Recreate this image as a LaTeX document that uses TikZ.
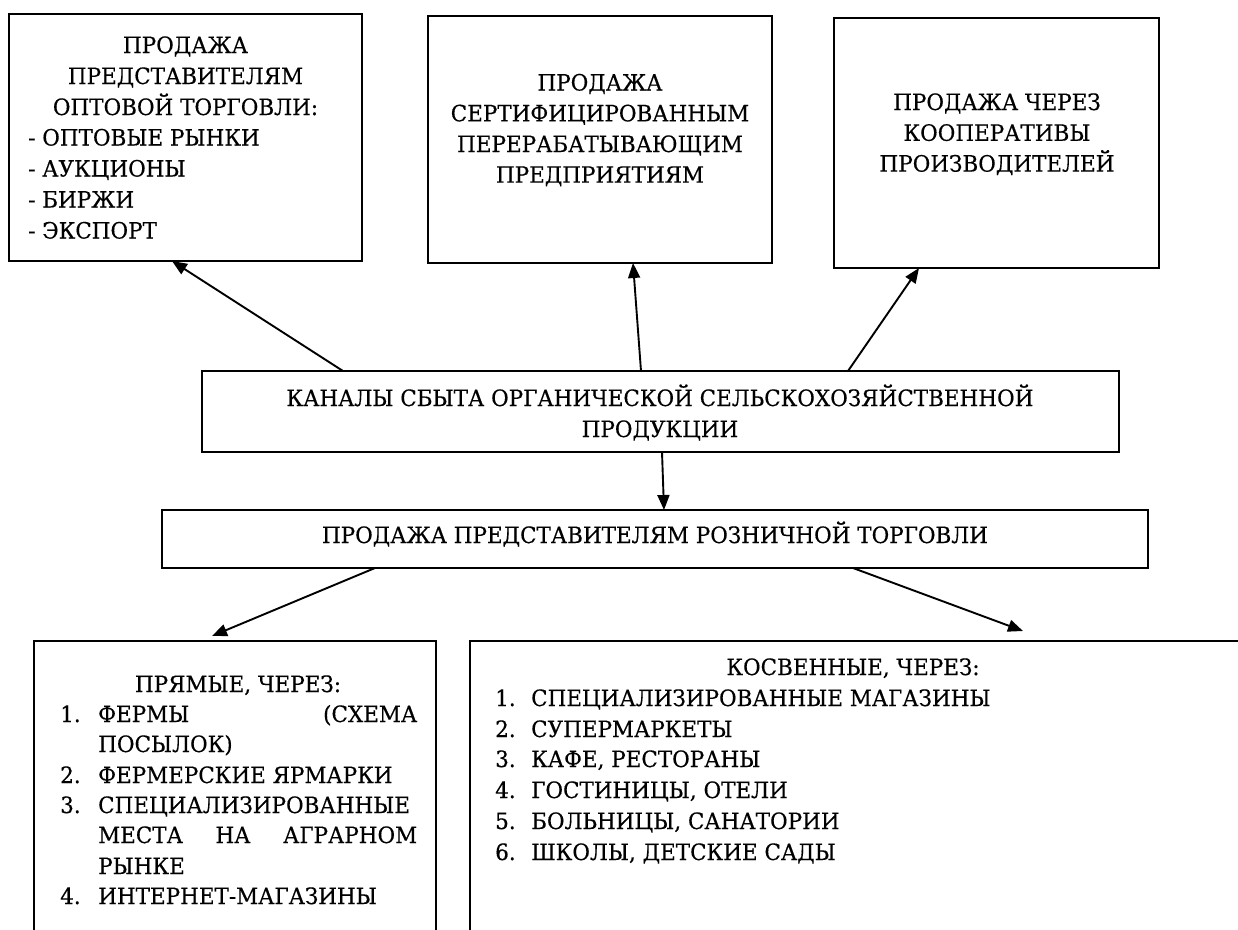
\documentclass[tikz,border=0pt]{standalone}
\usepackage{fontspec}
\newfontfamily\tnr[FakeStretch=0.955,FakeBold=0.4]{DejaVu Serif}
\usetikzlibrary{arrows.meta}
\begin{document}
\begin{tikzpicture}[x=1pt,y=-1pt,
  box/.style={draw, line width=1.9pt, inner sep=0pt, outer sep=0pt, anchor=north west},
  arr/.style={line width=1.9pt, -{Triangle[length=15pt,width=12pt]}},
  tc/.style={inner sep=0pt, anchor=base, font=\tnr\fontsize{22.5}{30}\selectfont},
  tl/.style={inner sep=0pt, anchor=base west, font=\tnr\fontsize{22.5}{30}\selectfont},
]
\clip (0,0) rectangle (1238,929);
\fill[white] (0,0) rectangle (1238,929);
% boxes
\node[box, minimum width=353pt, minimum height=247pt] (b1) at (9,14) {};
\node[box, minimum width=344pt, minimum height=247pt] (b2) at (428,16) {};
\node[box, minimum width=325pt, minimum height=250pt] (b3) at (834,18) {};
\node[box, minimum width=917pt, minimum height=81pt] (main) at (202,371) {};
\node[box, minimum width=986pt, minimum height=58pt] (retail) at (162,510) {};
\node[box, minimum width=402pt, minimum height=330pt] (direct) at (34,641) {};
\node[box, minimum width=820pt, minimum height=330pt] (indirect) at (470,641) {};
% box 1 text
\node[tc] (b1l1) at (185.5,53) {ПРОДАЖА};
\node[tc] (b1l2) at (185.5,84) {ПРЕДСТАВИТЕЛЯМ};
\node[tc] (b1l3) at (185.5,115) {ОПТОВОЙ ТОРГОВЛИ:};
\node[tl] (b1l4) at (28,145.5) {- ОПТОВЫЕ РЫНКИ};
\node[tl] (b1l5) at (28,176.5) {- АУКЦИОНЫ};
\node[tl] (b1l6) at (28,207.5) {- БИРЖИ};
\node[tl] (b1l7) at (28,238.5) {- ЭКСПОРТ};
% box 2 text
\node[tc] (b2l1) at (600,90.5) {ПРОДАЖА};
\node[tc] (b2l2) at (600,121.3) {СЕРТИФИЦИРОВАННЫМ};
\node[tc] (b2l3) at (600,152) {ПЕРЕРАБАТЫВАЮЩИМ};
\node[tc] (b2l4) at (600,182.7) {ПРЕДПРИЯТИЯМ};
% box 3 text
\node[tc] (b3l1) at (997,110) {ПРОДАЖА ЧЕРЕЗ};
\node[tc] (b3l2) at (997,140.8) {КООПЕРАТИВЫ};
\node[tc] (b3l3) at (997,171.6) {ПРОИЗВОДИТЕЛЕЙ};
% main
\node[tc] (m1) at (660,406) {КАНАЛЫ СБЫТА ОРГАНИЧЕСКОЙ СЕЛЬСКОХОЗЯЙСТВЕННОЙ};
\node[tc] (m2) at (660,437) {ПРОДУКЦИИ};
% retail
\node[tc] (r1) at (655,543) {ПРОДАЖА ПРЕДСТАВИТЕЛЯМ РОЗНИЧНОЙ ТОРГОВЛИ};
% direct
\node[tc] (d0) at (238,692) {ПРЯМЫЕ, ЧЕРЕЗ:};
\node[tl] (d1n) at (60,722) {1.};
\node[tl] (d1) at (98,722) {\makebox[319pt][s]{ФЕРМЫ (СХЕМА}};
\node[tl] (d1b) at (98,752) {ПОСЫЛОК)};
\node[tl] (d2n) at (60,783) {2.};
\node[tl] (d2) at (98,783) {ФЕРМЕРСКИЕ ЯРМАРКИ};
\node[tl] (d3n) at (60,813) {3.};
\node[tl] (d3) at (98,813) {СПЕЦИАЛИЗИРОВАННЫЕ};
\node[tl] (d3b) at (98,843) {\makebox[319pt][s]{МЕСТА НА АГРАРНОМ}};
\node[tl] (d3c) at (98,874) {РЫНКЕ};
\node[tl] (d4n) at (60,904) {4.};
\node[tl] (d4) at (98,904) {ИНТЕРНЕТ-МАГАЗИНЫ};
% indirect
\node[tc] (i0) at (853,675) {КОСВЕННЫЕ, ЧЕРЕЗ:};
\node[tl] (i1n) at (495,706) {1.};
\node[tl] (i1) at (531,706) {СПЕЦИАЛИЗИРОВАННЫЕ МАГАЗИНЫ};
\node[tl] (i2n) at (495,737) {2.};
\node[tl] (i2) at (531,737) {СУПЕРМАРКЕТЫ};
\node[tl] (i3n) at (495,767) {3.};
\node[tl] (i3) at (531,767) {КАФЕ, РЕСТОРАНЫ};
\node[tl] (i4n) at (495,798) {4.};
\node[tl] (i4) at (531,798) {ГОСТИНИЦЫ, ОТЕЛИ};
\node[tl] (i5n) at (495,829) {5.};
\node[tl] (i5) at (531,829) {БОЛЬНИЦЫ, САНАТОРИИ};
\node[tl] (i6n) at (495,860) {6.};
\node[tl] (i6) at (531,860) {ШКОЛЫ, ДЕТСКИЕ САДЫ};
% connectors
\coordinate (t5) at (212,636);
\coordinate (t6) at (1023,631);
\draw[arr] (main.north -| 343,0) -- (b1.south -| 172,0);
\draw[arr] (main.north -| 641,0) -- (b2.south -| 633,0);
\draw[arr] (main.north -| 848,0) -- (b3.south -| 919,0);
\draw[arr] (main.south -| 662,0) -- (retail.north -| 664,0);
\draw[arr] (retail.south -| 375,0) -- (t5);
\draw[arr] (retail.south -| 853,0) -- (t6);
\end{tikzpicture}
\end{document}
